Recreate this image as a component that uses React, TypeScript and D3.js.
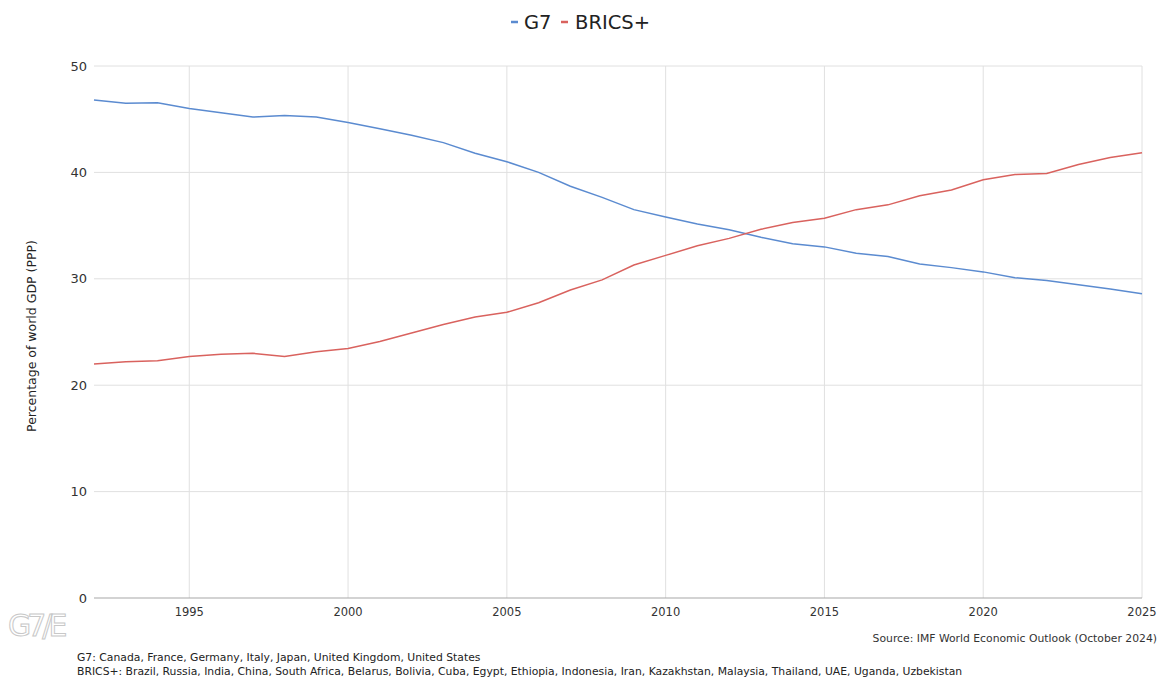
import React from "react";
import * as d3 from "d3";

const years = d3.range(1992, 2026);
const g7 = [46.8, 46.5, 46.55, 46.0, 45.6, 45.2, 45.35, 45.2, 44.7, 44.1, 43.5, 42.8, 41.8, 41.0, 40.0, 38.7, 37.65, 36.5, 35.8, 35.15, 34.6, 33.9, 33.3, 33.0, 32.4, 32.1, 31.4, 31.05, 30.65, 30.1, 29.85, 29.45, 29.05, 28.6];
const brics = [22.0, 22.2, 22.3, 22.7, 22.9, 23.0, 22.7, 23.15, 23.45, 24.1, 24.9, 25.7, 26.4, 26.85, 27.75, 28.95, 29.9, 31.3, 32.2, 33.1, 33.8, 34.65, 35.3, 35.7, 36.5, 36.95, 37.8, 38.35, 39.3, 39.8, 39.9, 40.75, 41.4, 41.85];
const xTicks = [1995, 2000, 2005, 2010, 2015, 2020, 2025];
const yTicks = [0, 10, 20, 30, 40, 50];
const seriesNames = ["G7", "BRICS+"];
const seriesColors = ["#5b8bd0", "#d9625e"];

const W = 1160, H = 677;
const FONT = "'DejaVu Sans', Verdana, sans-serif";

export default function App() {
  const x = d3.scaleLinear().domain([1992, 2025]).range([94, 1142]);
  const y = d3.scaleLinear().domain([0, 50]).range([598, 66]);
  const line = d3.line<number>().x((_, i) => x(years[i])).y((d) => y(d));
  const data = [g7, brics];
  return (
    <svg width={W} height={H} style={{ position: "absolute", left: 0, top: 0, background: "#fff" }} fontFamily={FONT}>
      {/* grid */}
      {yTicks.filter((t) => t > 0).map((t) => (
        <line key={"gy" + t} x1={x(1992)} x2={x(2025)} y1={y(t)} y2={y(t)} stroke="#e0e0e0" strokeWidth={1} />
      ))}
      {xTicks.map((t) => (
        <line key={"gx" + t} x1={x(t)} x2={x(t)} y1={y(50)} y2={y(0)} stroke="#e0e0e0" strokeWidth={1} />
      ))}
      <line x1={x(1992)} x2={x(2025)} y1={y(0)} y2={y(0)} stroke="#a8a8a8" strokeWidth={1.2} />
      {/* y labels */}
      {yTicks.map((t) => (
        <text key={"yl" + t} x={87} y={y(t)} dy="0.35em" textAnchor="end" fontSize={13} fill="#333">{t}</text>
      ))}
      {xTicks.map((t) => (
        <text key={"xl" + t} x={x(t)} y={612} dy="0.35em" textAnchor="middle" fontSize={11.5} fill="#333">{t}</text>
      ))}
      <text transform={`translate(36,${y(25) + 4}) rotate(-90)`} textAnchor="middle" fontSize={12.5} fill="#222">Percentage of world GDP (PPP)</text>
      {/* lines */}
      {data.map((d, i) => (
        <path key={"s" + i} d={line(d) || ""} fill="none" stroke={seriesColors[i]} strokeWidth={1.5} />
      ))}
      {/* legend */}
      <g>
        <line x1={511} x2={518} y1={22} y2={22} stroke={seriesColors[0]} strokeWidth={2.5} />
        <text x={524} y={22} dy="0.35em" fontSize={19.5} fill="#222">{seriesNames[0]}</text>
        <line x1={561} x2={568} y1={22} y2={22} stroke={seriesColors[1]} strokeWidth={2.5} />
        <text x={575} y={22} dy="0.35em" fontSize={19.5} fill="#222">{seriesNames[1]}</text>
      </g>
      {/* logo */}
      <text x={8} y={636} fontSize={30} fontFamily="'DejaVu Sans', sans-serif" fill="none" stroke="#c8c8c8" strokeWidth={1} letterSpacing={-4}>G7/E</text>
      {/* source */}
      <text x={1157} y={638} dy="0.35em" textAnchor="end" fontSize={10.8} fill="#333">Source: IMF World Economic Outlook (October 2024)</text>
      <text x={77} y={657} dy="0.35em" fontSize={10.8} fill="#222">G7: Canada, France, Germany, Italy, Japan, United Kingdom, United States</text>
      <text x={77} y={671} dy="0.35em" fontSize={10.8} fill="#222">BRICS+: Brazil, Russia, India, China, South Africa, Belarus, Bolivia, Cuba, Egypt, Ethiopia, Indonesia, Iran, Kazakhstan, Malaysia, Thailand, UAE, Uganda, Uzbekistan</text>
    </svg>
  );
}
